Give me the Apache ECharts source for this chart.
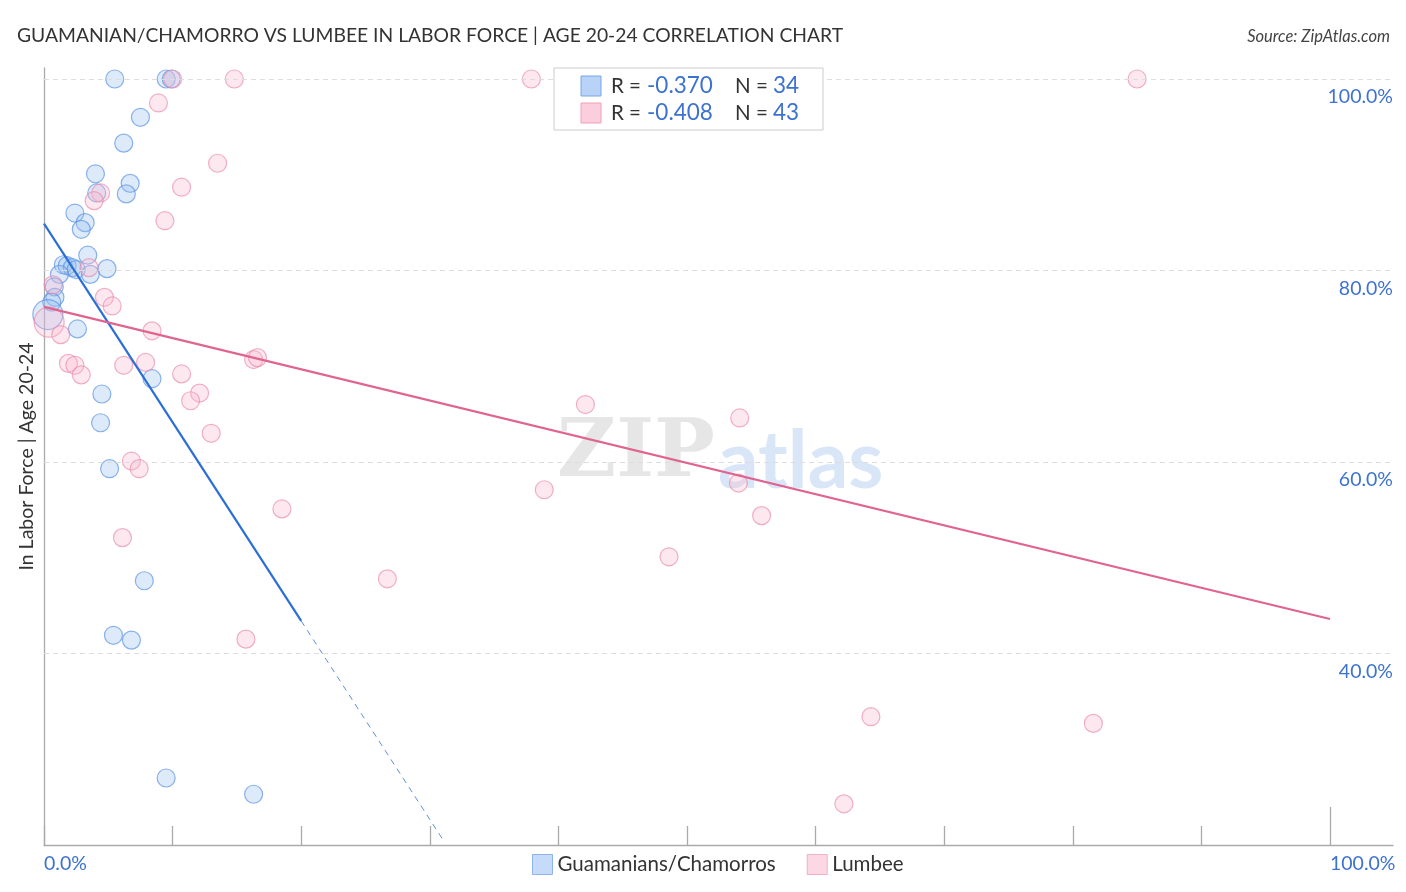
<!DOCTYPE html>
<html><head><meta charset="utf-8">
<script src="https://cdn.jsdelivr.net/npm/echarts@6/dist/echarts.min.js"></script>
<style>html,body{margin:0;padding:0;background:#fff}#c{width:1406px;height:892px}</style>
</head><body><div id="c"></div>
<script>
const titleText = "GUAMANIAN/CHAMORRO VS LUMBEE IN LABOR FORCE | AGE 20-24 CORRELATION CHART";
const sourceText = "Source: ZipAtlas.com";
const yAxisName = "In Labor Force | Age 20-24";
const seriesNames = ["Guamanians/Chamorros", "Lumbee"];
const statsR = ["-0.370", "-0.408"];
const statsN = ["34", "43"];
const xTickValues = [0,10,20,30,40,50,60,70,80,90];
const xLabelValues = [0,100];
const yLabelValues = [40,60,80,100];

const guamanian = [
 [5.5,100],[9.5,100],[9.9,100],[7.5,96.0],[6.2,93.3],[4.0,90.1],[6.7,89.1],[4.1,88.1],[6.4,88.0],
 [2.4,86.0],[3.2,85.0],[2.9,84.3],[3.4,81.6],[1.5,80.6],[1.8,80.5],[2.2,80.3],[2.5,80.1],[4.9,80.2],
 [1.2,79.6],[3.6,79.6],[0.8,78.3],[0.85,77.2],[0.6,76.7],[0.3,75.4],[2.6,73.9],[8.4,68.7],[4.5,67.1],
 [4.4,64.1],[5.1,59.3],[7.8,47.6],[5.4,41.9],[6.8,41.4],[9.5,27.0],[16.3,25.3]
];
const lumbee = [
 [10.0,100],[14.8,100],[37.9,100],[85.0,100],[8.9,97.5],[13.5,91.2],[10.7,88.7],[4.4,88.1],[3.9,87.3],
 [9.4,85.2],[3.5,80.3],[0.7,78.5],[4.7,77.2],[5.3,76.3],[0.4,74.6],[8.4,73.7],[1.3,73.3],[1.9,70.3],
 [2.4,70.1],[2.9,69.1],[7.9,70.4],[6.2,70.1],[10.7,69.2],[16.3,70.7],[16.6,70.9],[12.1,67.2],[11.4,66.4],
 [13.0,63.0],[6.8,60.1],[7.4,59.3],[6.1,52.1],[18.5,55.1],[42.1,66.0],[54.1,64.6],[54.0,57.8],[38.9,57.1],
 [55.8,54.4],[48.6,50.1],[26.7,47.8],[15.7,41.5],[64.3,33.4],[81.6,32.7],[62.2,24.3]
];
const blueTrendSolid = [[0,84.9],[20,43.4]];
const blueTrendDash = [[20,43.4],[31,20.6]];
const pinkTrend = [[0,76.2],[100,43.6]];

const BLUE = '#3d72d0', FONT = 'Lato, "Noto Sans", sans-serif';
const chart = echarts.init(document.getElementById('c'));
const sz = v => v[0] < 0.5 ? 30 : 18;
const legendRow = (i, y, fill, stroke) => [
  {type:'rect', z:20, shape:{x:581,y:y-10,width:20,height:20}, style:{fill:fill, stroke:stroke, lineWidth:1}},
  {type:'text', z:20, x:611, y:y, style:{text:'R = ', font:'20.5px '+FONT, fill:'#333', verticalAlign:'middle'}},
  {type:'text', z:20, x:647, y:y, style:{text:statsR[i], font:'22.5px '+FONT, fill:BLUE, verticalAlign:'middle'}},
  {type:'text', z:20, x:735, y:y, style:{text:'N = ', font:'20.5px '+FONT, fill:'#333', verticalAlign:'middle'}},
  {type:'text', z:20, x:773, y:y, style:{text:statsN[i], font:'22.5px '+FONT, fill:BLUE, verticalAlign:'middle'}}
];
chart.setOption({
  animation:false,
  title:[
    {text:titleText, left:12, top:21, textStyle:{fontSize:19.3, fontWeight:'normal', color:'#333', fontFamily:FONT}},
    {text:sourceText, right:11, top:23, textStyle:{fontSize:16.5, fontWeight:'normal', fontStyle:'italic', color:'#444', fontFamily:FONT}}
  ],
  grid:{left:44, right:13, top:68, bottom:47},
  legend:{bottom:12, left:527, itemWidth:20, itemHeight:20, itemGap:31, icon:'rect',
    textStyle:{fontSize:20.5, color:'#333', fontFamily:FONT},
    data:[{name:seriesNames[0], itemStyle:{color:'rgba(160,195,245,0.75)', borderColor:'#7aa6e8', borderWidth:1}},
          {name:seriesNames[1], itemStyle:{color:'rgba(250,190,210,0.75)', borderColor:'#f0a0b8', borderWidth:1}}]},
  xAxis:[{type:'value', min:0, max:104.9, interval:10,
    axisLine:{show:true, lineStyle:{color:'#aaa', width:1.3}},
    axisTick:{show:true, customValues:xTickValues, length:19, inside:true, lineStyle:{color:'#aaa', width:1.3}},
    axisLabel:{show:true, customValues:xLabelValues, align:'left', margin:9, color:BLUE, fontSize:19.5, fontFamily:FONT,
      formatter:v=>v.toFixed(1)+'%'},
    splitLine:{show:false}},
   {type:'value', min:0, max:104.9, position:'bottom',
    axisLine:{show:false}, axisLabel:{show:false}, splitLine:{show:false},
    axisTick:{show:true, customValues:[100], length:38, inside:true, lineStyle:{color:'#aaa', width:1.3}}}],
  yAxis:[{type:'value', min:20, max:101.15, position:'left',
    axisLine:{show:true, lineStyle:{color:'#aaa', width:1.3}}, axisTick:{show:false}, axisLabel:{show:false}, splitLine:{show:false},
    name:yAxisName, nameLocation:'middle', nameGap:7, nameRotate:90,
    nameTextStyle:{fontSize:19.5, color:'#333', fontFamily:FONT}},
   {type:'value', min:20, max:101.15, position:'right',
    axisLine:{show:false}, axisTick:{show:false}, splitLine:{show:false},
    axisLabel:{show:true, inside:true, margin:0, customValues:yLabelValues, color:BLUE, fontSize:19.5, fontFamily:FONT,
      verticalAlign:'top', padding:[8,0,0,0], formatter:v=>v.toFixed(1)+'%'}}],
  graphic:[
    {type:'text', x:557, y:455, z:0, style:{text:'ZIP', font:'bold 81px "DejaVu Serif", "Liberation Serif", serif', fill:'rgba(200,200,200,0.45)', verticalAlign:'middle'}},
    {type:'text', x:718, y:462, z:0, style:{text:'atlas', font:'bold 80px '+FONT, fill:'rgba(170,200,240,0.45)', verticalAlign:'middle'}},
    {type:'rect', shape:{x:554,y:68,width:269,height:62}, style:{fill:'#fff', stroke:'#ccc', lineWidth:1}, z:10},
    ...legendRow(0, 86, 'rgba(160,195,245,0.75)', '#7aa6e8'),
    ...legendRow(1, 113, 'rgba(250,190,210,0.75)', '#f0a0b8')
  ],
  series:[
    {name:'grid', type:'line', data:[], markLine:{silent:true, symbol:'none', label:{show:false},
      lineStyle:{color:'#ddd', type:[5,4], width:1}, data:yLabelValues.map(v=>({yAxis:v}))}},
    {name:seriesNames[0], type:'scatter', data:guamanian, symbolSize:sz,
      itemStyle:{color:'rgba(150,190,240,0.4)', borderColor:'rgba(90,145,225,0.85)', borderWidth:1.2}},
    {name:seriesNames[1], type:'scatter', data:lumbee, symbolSize:sz,
      itemStyle:{color:'rgba(250,185,205,0.4)', borderColor:'rgba(235,140,170,0.85)', borderWidth:1.2}},
    {type:'line', data:blueTrendSolid, symbol:'none', lineStyle:{color:'#2b6fd6', width:2.2}, z:5},
    {type:'line', data:blueTrendDash, symbol:'none', lineStyle:{color:'#5b8fdc', width:1, type:[6,5]}, z:5},
    {type:'line', data:pinkTrend, symbol:'none', lineStyle:{color:'#e0648f', width:2.2}, z:5}
  ]
});
</script></body></html>
